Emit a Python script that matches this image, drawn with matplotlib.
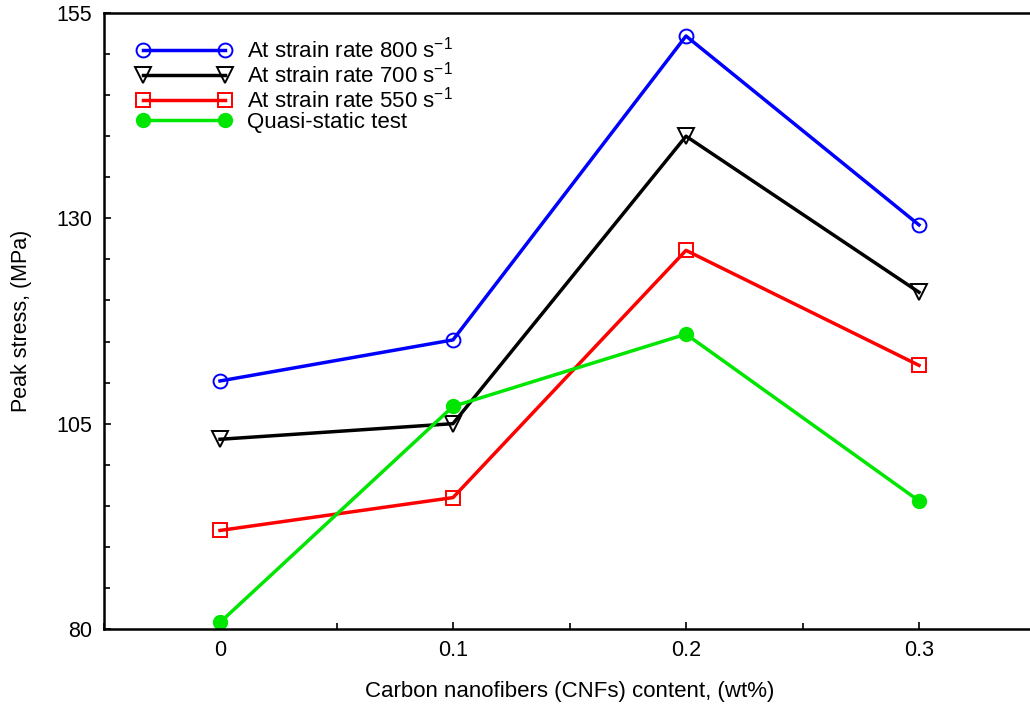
import matplotlib
matplotlib.use("Agg")
import matplotlib.pyplot as plt
from matplotlib.ticker import MultipleLocator, FixedLocator

plt.rcParams['font.family'] = ['Liberation Sans', 'DejaVu Sans']
plt.rcParams['mathtext.fontset'] = 'custom'
plt.rcParams['mathtext.rm'] = 'Liberation Sans'

cnf = [0, 0.1, 0.2, 0.3]
rate800 = [110.2, 115.2, 152.2, 129.2]
rate700 = [103.1, 105.0, 140.0, 121.0]
rate550 = [92.0, 96.0, 126.1, 112.1]
quasi = [80.8, 107.1, 115.9, 95.6]

yticks = [80, 105, 130, 155]
xticklabels = ['0', '0.1', '0.2', '0.3']
labels = ['At strain rate 800 s$^{\\mathrm{-1}}$', 'At strain rate 700 s$^{\\mathrm{-1}}$',
          'At strain rate 550 s$^{\\mathrm{-1}}$', 'Quasi-static test']

W, H = 1030, 705
fig = plt.figure(figsize=(W/100, H/100), dpi=100)
ax = fig.add_axes([103.5/W, (H-629)/H, (1035.5-103.5)/W, (629-13)/H])

ax.plot(cnf, rate800, color='#0000ff', lw=2.5, marker='o', ms=10, mfc='none', mew=1.4, label=labels[0])
ax.plot(cnf, rate700, color='black', lw=2.5, marker='v', ms=11, mfc='none', mew=1.4, label=labels[1])
ax.plot(cnf, rate550, color='#ff0000', lw=2.5, marker='s', ms=10, mfc='none', mew=1.4, label=labels[2])
ax.plot(cnf, quasi, color='#00e600', lw=2.5, marker='o', ms=10, label=labels[3])

ax.set_xlim(-0.05, 0.35)
ax.set_ylim(80, 155)
ax.xaxis.set_major_locator(FixedLocator(cnf))
ax.xaxis.set_minor_locator(MultipleLocator(0.05))
ax.yaxis.set_major_locator(FixedLocator(yticks))
ax.yaxis.set_minor_locator(MultipleLocator(5))
ax.set_xticklabels(xticklabels)
ax.tick_params(which='both', direction='in', labelsize=15.5, width=1.2)
ax.tick_params(which='major', length=5)
ax.tick_params(which='minor', length=4)
ax.tick_params(axis='x', pad=8)
ax.tick_params(axis='y', pad=8)
for s in ax.spines.values():
    s.set_linewidth(1.8)

ax.set_xlabel('Carbon nanofibers (CNFs) content, (wt%)', fontsize=16, labelpad=14)
ax.set_ylabel('Peak stress, (MPa)', fontsize=15.5, labelpad=18)

leg = ax.legend(loc='upper left', bbox_to_anchor=(0.035, 0.962), frameon=False,
                fontsize=16, numpoints=2, handlelength=4.3, handletextpad=0.68,
                labelspacing=-0.03, borderaxespad=0, borderpad=0)

fig.savefig('out.png', dpi=100)
